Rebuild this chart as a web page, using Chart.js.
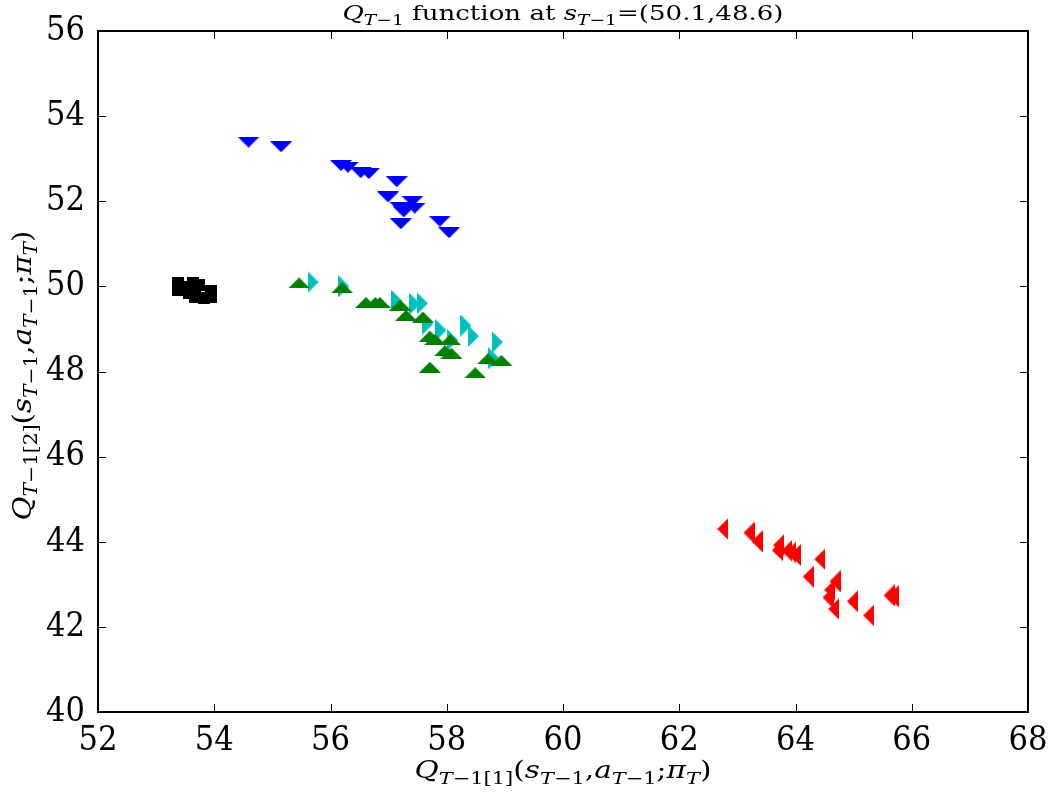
<!DOCTYPE html>
<html>
<head>
<meta charset="utf-8">
<script src="https://cdn.jsdelivr.net/npm/chart.js@4/dist/chart.umd.min.js"></script>
<style>
    html, body { margin: 0; padding: 0; background: #fff; }
    #wrap { width: 1050px; height: 793px; }
</style>
</head>
<body>
<div id="wrap"><canvas id="qchart" width="1050" height="793"></canvas></div>
<script>
// values
const xTicks = [52, 54, 56, 58, 60, 62, 64, 66, 68];
const yTicks = [40, 42, 44, 46, 48, 50, 52, 54, 56];

const blackX = [53.37, 53.37, 53.45, 53.63, 53.74, 53.57, 53.67, 53.94, 53.83, 53.94];
const blackY = [50.08, 49.91, 49.98, 50.08, 50.03, 49.84, 49.74, 49.90, 49.73, 49.76];

const blueX = [54.59, 55.15, 56.18, 56.30, 56.52, 56.66, 57.14, 56.99, 57.41, 57.20, 57.45, 57.26, 57.21, 57.88, 58.04];
const blueY = [53.39, 53.28, 52.84, 52.80, 52.67, 52.65, 52.46, 52.10, 52.00, 51.86, 51.84, 51.75, 51.47, 51.53, 51.26];

const greenX = [55.46, 56.20, 56.61, 56.77, 56.85, 57.20, 57.30, 57.59, 57.71, 57.80, 58.06, 57.97, 58.08, 58.71, 58.94, 57.71, 58.49];
const greenY = [50.08, 49.97, 49.62, 49.62, 49.62, 49.56, 49.32, 49.28, 48.83, 48.75, 48.75, 48.49, 48.43, 48.30, 48.26, 48.10, 47.97];

const cyanX = [55.70, 56.23, 57.14, 57.45, 57.58, 57.67, 57.90, 58.10, 58.33, 58.46, 58.87, 58.81];
const cyanY = [50.10, 50.00, 49.66, 49.59, 49.60, 49.12, 48.97, 48.74, 49.08, 48.83, 48.69, 48.31];

const redX = [62.75, 63.20, 63.34, 63.71, 63.69, 63.85, 64.00, 63.92, 64.42, 64.22, 64.68, 64.59, 64.56, 64.66, 64.98, 65.26, 65.61, 65.68];
const redY = [44.30, 44.21, 44.01, 43.92, 43.80, 43.79, 43.69, 43.75, 43.59, 43.18, 43.07, 42.87, 42.69, 42.42, 42.60, 42.27, 42.74, 42.72];

const SERIF = "'DejaVu Serif', serif";
const TICK_SERIF = "'DejaVu Serif Condensed', 'DejaVu Serif', serif";

const titleParts = [
    { t: 'Q', i: true }, { t: 'T', i: true, s: true }, { t: '\u22121', s: true },
    { t: ' function at ' },
    { t: 's', i: true }, { t: 'T', i: true, s: true }, { t: '\u22121', s: true },
    { t: '=(50.1,48.6)' }
];

function axisParts(index) {
    return [
        { t: 'Q', i: true }, { t: 'T', i: true, s: true }, { t: '\u22121[' + index + ']', s: true },
        { t: '(' },
        { t: 's', i: true }, { t: 'T', i: true, s: true }, { t: '\u22121', s: true },
        { t: ',' },
        { t: 'a', i: true }, { t: 'T', i: true, s: true }, { t: '\u22121', s: true },
        { t: ';' },
        { t: '\u03c0', i: true }, { t: 'T', i: true, s: true },
        { t: ')' }
    ];
}

function makeMarker(color, dir, w, h) {
    const c = document.createElement('canvas');
    c.width = w;
    c.height = h;
    const g = c.getContext('2d');
    g.fillStyle = color;
    g.beginPath();
    if (dir === 'down') {
        g.moveTo(0, 0); g.lineTo(w, 0); g.lineTo(w / 2, h);
    } else if (dir === 'up') {
        g.moveTo(w / 2, 0); g.lineTo(w, h); g.lineTo(0, h);
    } else if (dir === 'right') {
        g.moveTo(0, 0); g.lineTo(w, h / 2); g.lineTo(0, h);
    } else if (dir === 'left') {
        g.moveTo(w, 0); g.lineTo(0, h / 2); g.lineTo(w, h);
    } else {
        g.rect(0, 0, w, h);
    }
    g.closePath();
    g.fill();
    return c;
}

function toPoints(xs, ys) {
    return xs.map((x, idx) => ({ x: x, y: ys[idx] }));
}

// draws mathtext-like pieces centred on x, stretched to the given width
function drawMath(ctx, parts, x, y, size, width) {
    const subSize = Math.round(size * 0.7);
    const fontFor = p => (p.i ? 'italic ' : '') + (p.s ? subSize : size) + 'px ' + SERIF;
    let total = 0;
    parts.forEach(p => {
        ctx.font = fontFor(p);
        total += ctx.measureText(p.t).width;
    });
    const sx = width ? width / total : 1;
    ctx.save();
    ctx.translate(x - total * sx / 2, y);
    ctx.scale(sx, 1);
    ctx.textAlign = 'left';
    ctx.textBaseline = 'alphabetic';
    let cx = 0;
    parts.forEach(p => {
        ctx.font = fontFor(p);
        ctx.fillText(p.t, cx, p.s ? size * 0.24 : 0);
        cx += ctx.measureText(p.t).width;
    });
    ctx.restore();
}

const framePlugin = {
    id: 'frame',
    afterDatasetsDraw(chart) {
        const ctx = chart.ctx;
        const area = chart.chartArea;
        const xs = chart.scales.x;
        const ys = chart.scales.y;
        const tick = 8;
        ctx.save();
        ctx.strokeStyle = '#000';
        ctx.lineWidth = 1;
        ctx.beginPath();
        xTicks.forEach(v => {
            const px = Math.round(xs.getPixelForValue(v)) + 0.5;
            ctx.moveTo(px, area.bottom); ctx.lineTo(px, area.bottom - tick);
            ctx.moveTo(px, area.top); ctx.lineTo(px, area.top + tick);
        });
        yTicks.forEach(v => {
            const py = Math.round(ys.getPixelForValue(v)) + 0.5;
            ctx.moveTo(area.left, py); ctx.lineTo(area.left + tick, py);
            ctx.moveTo(area.right, py); ctx.lineTo(area.right - tick, py);
        });
        ctx.stroke();
        ctx.lineWidth = 2;
        ctx.strokeRect(area.left, area.top, area.right - area.left, area.bottom - area.top);
        ctx.restore();
    },
    afterDraw(chart) {
        const ctx = chart.ctx;
        const area = chart.chartArea;
        const mid = (area.left + area.right) / 2;
        ctx.save();
        ctx.fillStyle = '#000';
        drawMath(ctx, titleParts, mid, 20, 21, 441);
        drawMath(ctx, axisParts(1), mid, 778, 24, 297);
        ctx.translate(31, (area.top + area.bottom) / 2 + 4);
        ctx.rotate(-Math.PI / 2);
        drawMath(ctx, axisParts(2), 0, 0, 26, 290);
        ctx.restore();
    }
};

const tickFont = { family: TICK_SERIF, size: 34 };

const config = {
    type: 'scatter',
    data: {
        datasets: [
            { label: 'black', data: toPoints(blackX, blackY), pointStyle: makeMarker('#000000', 'square', 12, 12) },
            { label: 'blue', data: toPoints(blueX, blueY), pointStyle: makeMarker('#0000ff', 'down', 22, 11) },
            { label: 'green', data: toPoints(greenX, greenY), pointStyle: makeMarker('#008000', 'up', 22, 11) },
            { label: 'cyan', data: toPoints(cyanX, cyanY), pointStyle: makeMarker('#00bfbf', 'right', 11, 22) },
            { label: 'red', data: toPoints(redX, redY), pointStyle: makeMarker('#ff0000', 'left', 11, 22) }
        ]
    },
    options: {
        responsive: false,
        animation: false,
        events: [],
        layout: {
            padding: { top: 31, right: 22, left: 0, bottom: 0 }
        },
        plugins: {
            legend: { display: false },
            tooltip: { enabled: false }
        },
        scales: {
            x: {
                type: 'linear',
                min: 52,
                max: 68,
                afterBuildTicks: scale => { scale.ticks = xTicks.map(v => ({ value: v })); },
                ticks: { font: tickFont, color: '#000', padding: 1, maxRotation: 0 },
                grid: { display: false },
                border: { display: false },
                afterFit: scale => { scale.height = 81; }
            },
            y: {
                type: 'linear',
                min: 40,
                max: 56,
                afterBuildTicks: scale => { scale.ticks = yTicks.map(v => ({ value: v })); },
                ticks: { font: tickFont, color: '#000', padding: 5 },
                grid: { display: false },
                border: { display: false },
                afterFit: scale => { scale.width = 98; }
            }
        }
    },
    plugins: [framePlugin]
};

document.addEventListener('DOMContentLoaded', () => {
    new Chart(document.getElementById('qchart'), config);
});
</script>
</body>
</html>
